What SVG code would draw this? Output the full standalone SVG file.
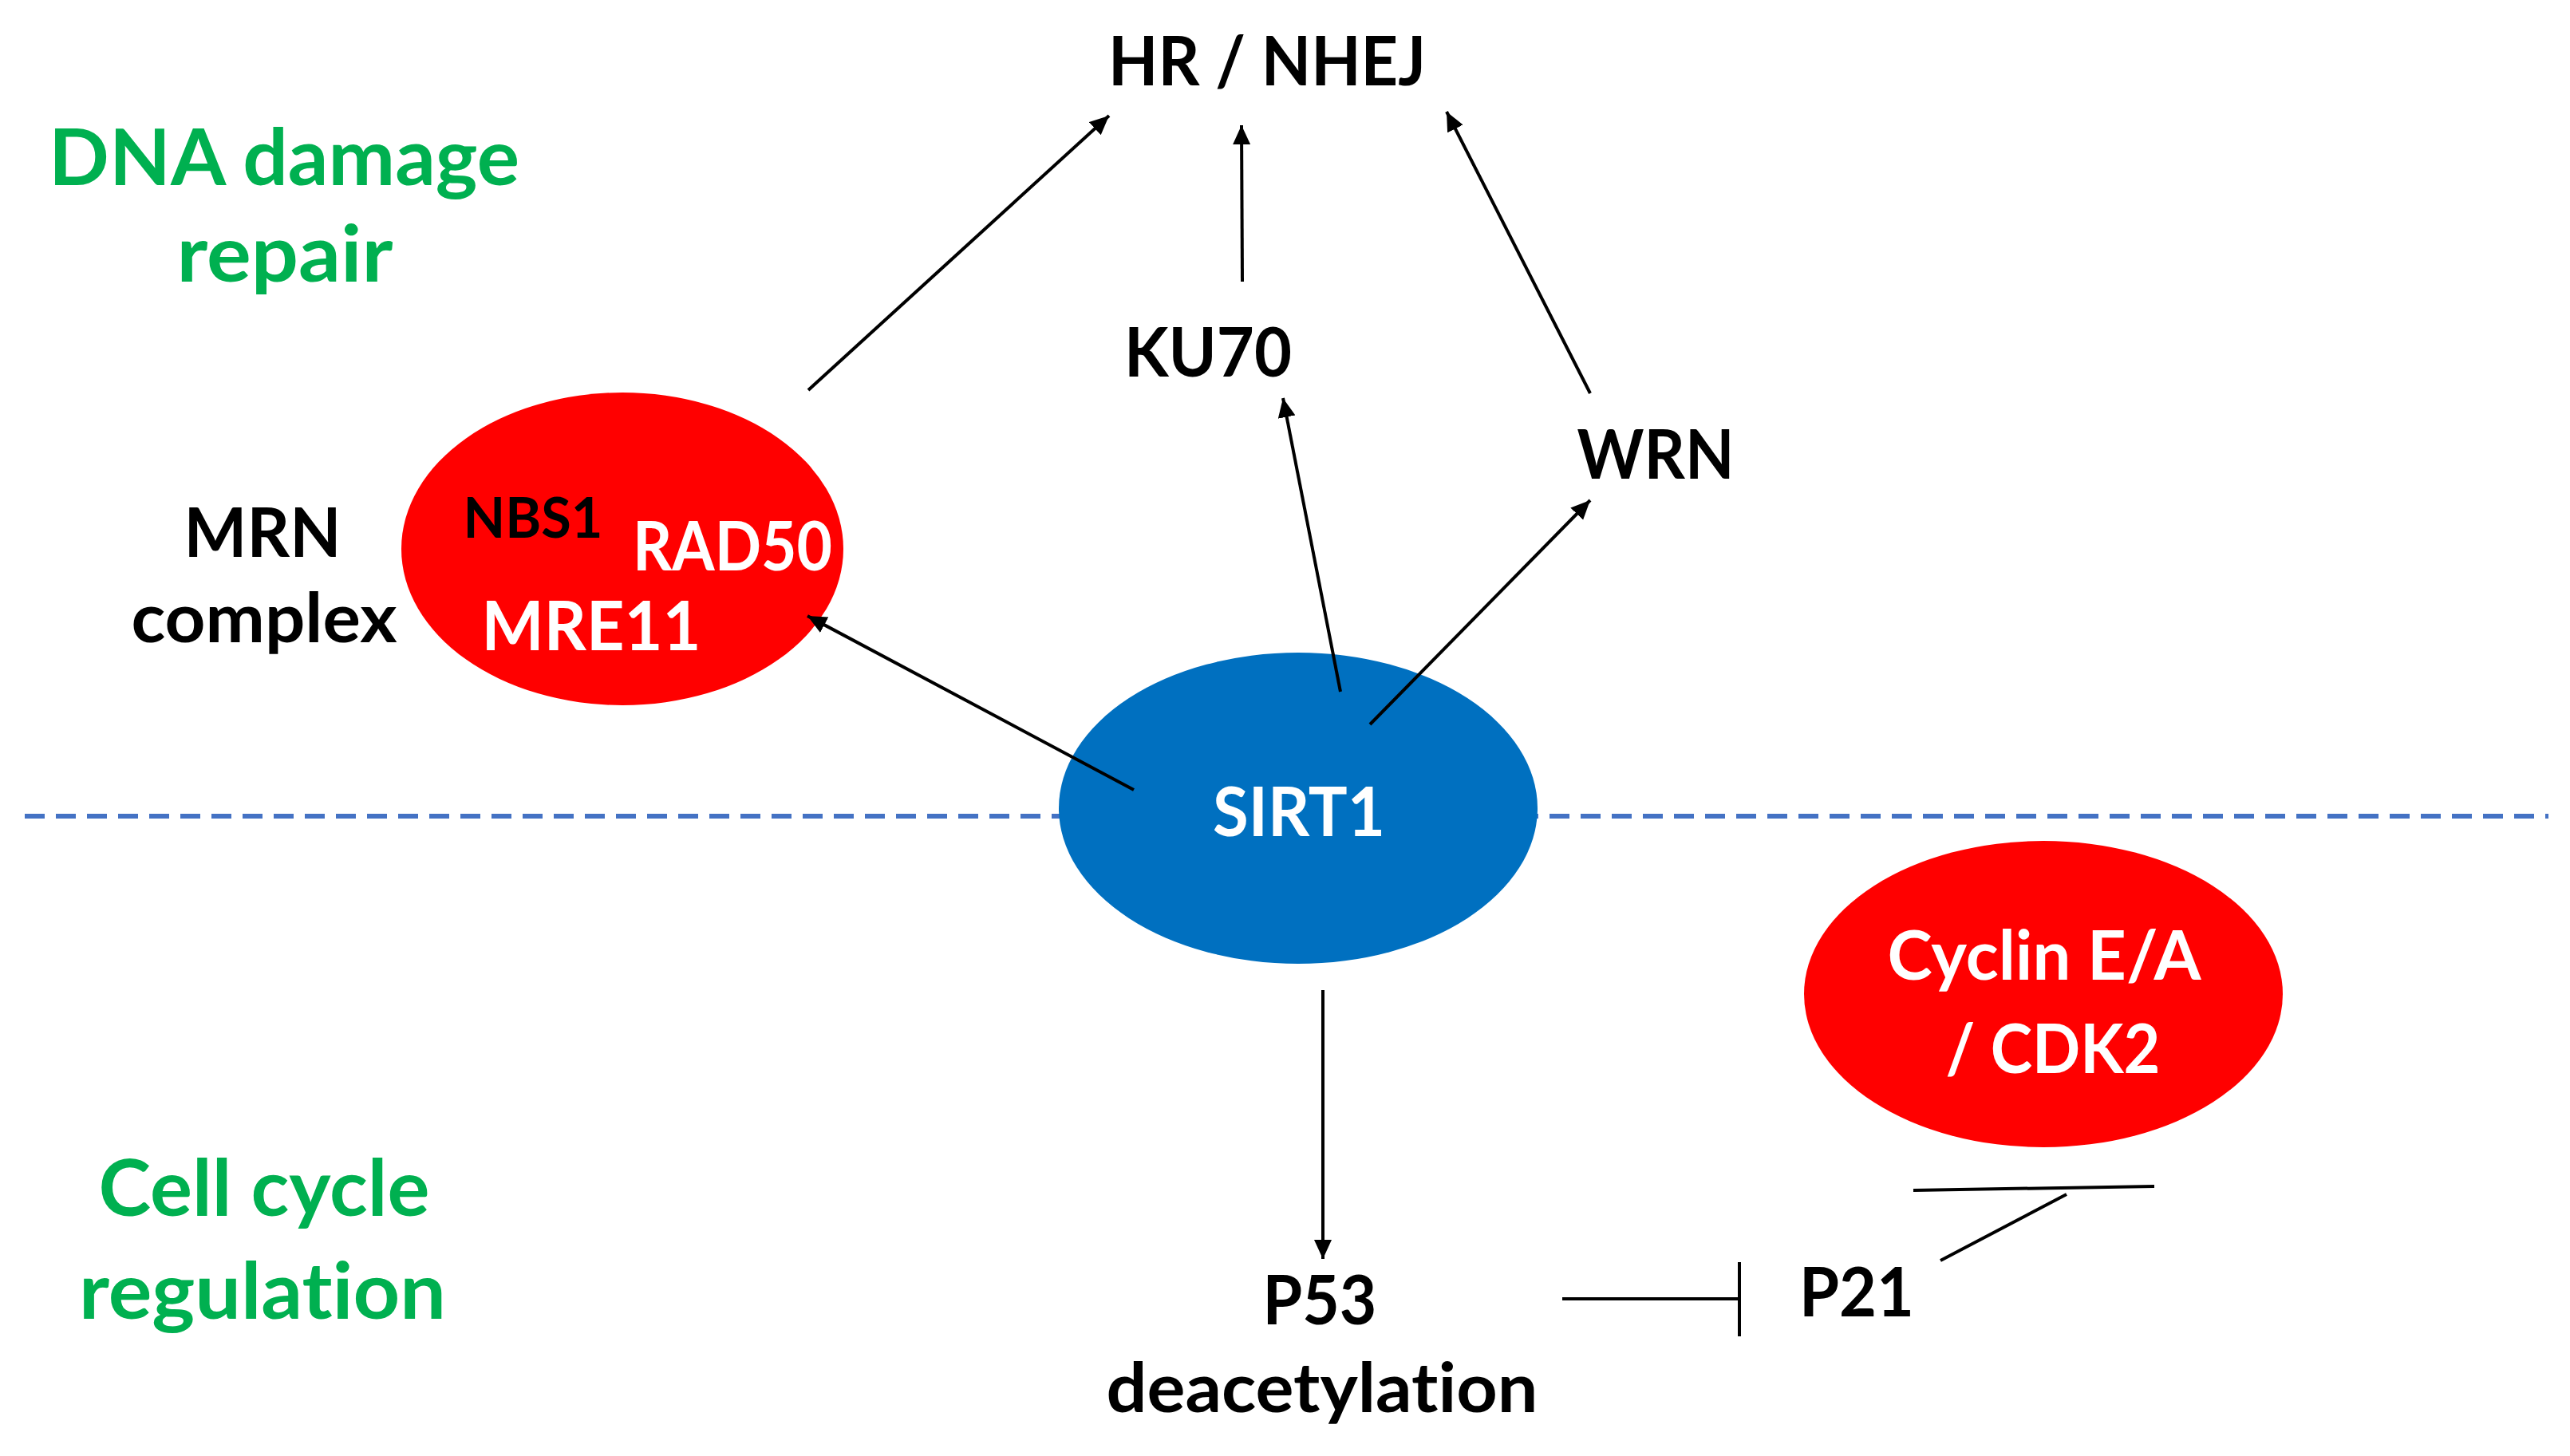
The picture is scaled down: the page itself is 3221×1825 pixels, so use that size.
<svg xmlns="http://www.w3.org/2000/svg" width="3221" height="1825" viewBox="0 0 3221 1825">
<defs>
<style>
text{font-family:Lato,"Open Sans","Liberation Sans",sans-serif;font-weight:700;text-anchor:middle;font-variant-ligatures:none;font-feature-settings:"liga" 0}
.blk{fill:#000;font-size:86px}
.wht{fill:#fff;font-size:86px}
.grn{fill:#00B050;font-size:97px}
.ln{stroke:#000;stroke-width:4;fill:none}
.arr{marker-end:url(#ah)}
</style>
<marker id="ah" markerUnits="userSpaceOnUse" markerWidth="26" markerHeight="24" refX="24" refY="11" orient="auto" viewBox="0 0 26 24">
<path d="M0,0 L24,11 L0,22 z" fill="#000"/>
</marker>
</defs>
<rect width="3221" height="1825" fill="#fff"/>
<line x1="31" y1="1023" x2="3194" y2="1023" stroke="#4472C4" stroke-width="6" stroke-dasharray="25 14"/>
<g id="label-dna-repair">
<text class="grn" x="356" y="232" textLength="590" lengthAdjust="spacingAndGlyphs">DNA damage</text>
<text class="grn" x="357" y="353" textLength="271" lengthAdjust="spacingAndGlyphs">repair</text>
</g>
<g id="label-cell-cycle">
<text class="grn" x="331" y="1524" textLength="415" lengthAdjust="spacingAndGlyphs">Cell cycle</text>
<text class="grn" x="329" y="1653" textLength="460" lengthAdjust="spacingAndGlyphs">regulation</text>
</g>
<g id="node-hr-nhej"><text class="blk" x="1588" y="107" textLength="398" lengthAdjust="spacingAndGlyphs">HR / NHEJ</text></g>
<g id="node-ku70"><text class="blk" x="1514" y="472" textLength="210" lengthAdjust="spacingAndGlyphs">KU70</text></g>
<g id="node-wrn"><text class="blk" x="2075" y="600" textLength="197" lengthAdjust="spacingAndGlyphs">WRN</text></g>
<g id="node-mrn">
<text class="blk" x="329" y="698" textLength="197" lengthAdjust="spacingAndGlyphs">MRN</text>
<text class="blk" x="331" y="805" textLength="333" lengthAdjust="spacingAndGlyphs">complex</text>
<ellipse cx="780" cy="688" rx="277" ry="196" fill="#FF0000"/>
<text x="668" y="674" font-size="70" fill="#000" textLength="175" lengthAdjust="spacingAndGlyphs">NBS1</text>
<text class="wht" x="918" y="715" textLength="250" lengthAdjust="spacingAndGlyphs">RAD50</text>
<text class="wht" x="741" y="815" textLength="275" lengthAdjust="spacingAndGlyphs">MRE11</text>
</g>
<g id="node-sirt1">
<ellipse cx="1627" cy="1013" rx="300" ry="195" fill="#0070C0"/>
<text class="wht" x="1628" y="1048" textLength="216" lengthAdjust="spacingAndGlyphs">SIRT1</text>
</g>
<g id="node-cyclin">
<ellipse cx="2561" cy="1246" rx="300" ry="192" fill="#FF0000"/>
<text class="wht" x="2562" y="1228" textLength="393" lengthAdjust="spacingAndGlyphs">Cyclin E/A</text>
<text class="wht" x="2573" y="1345" textLength="269" lengthAdjust="spacingAndGlyphs">/ CDK2</text>
</g>
<g id="node-p53">
<text class="blk" x="1654" y="1660" textLength="143" lengthAdjust="spacingAndGlyphs">P53</text>
<text class="blk" x="1657" y="1770" textLength="541" lengthAdjust="spacingAndGlyphs">deacetylation</text>
</g>
<g id="node-p21"><text class="blk" x="2327" y="1650" textLength="144" lengthAdjust="spacingAndGlyphs">P21</text></g>
<g id="connectors">
<line class="ln arr" x1="1013" y1="489" x2="1390" y2="145"/>
<line class="ln arr" x1="1557" y1="353" x2="1556" y2="157" stroke-width="3"/>
<line class="ln arr" x1="1993" y1="493" x2="1813" y2="140"/>
<line class="ln arr" x1="1680" y1="867" x2="1608" y2="499"/>
<line class="ln arr" x1="1717" y1="908" x2="1993" y2="627"/>
<line class="ln arr" x1="1421" y1="990" x2="1012" y2="772"/>
<line class="ln arr" x1="1658" y1="1241" x2="1658" y2="1578" stroke-width="3"/>
<line class="ln" x1="1958" y1="1628" x2="2180" y2="1628" stroke-width="5"/>
<line class="ln" x1="2180" y1="1582" x2="2180" y2="1675" stroke-width="5"/>
<line class="ln" x1="2432" y1="1580" x2="2590" y2="1497" stroke-width="4"/>
<line class="ln" x1="2398" y1="1492" x2="2700" y2="1487" stroke-width="4.5"/>
</g>
</svg>
